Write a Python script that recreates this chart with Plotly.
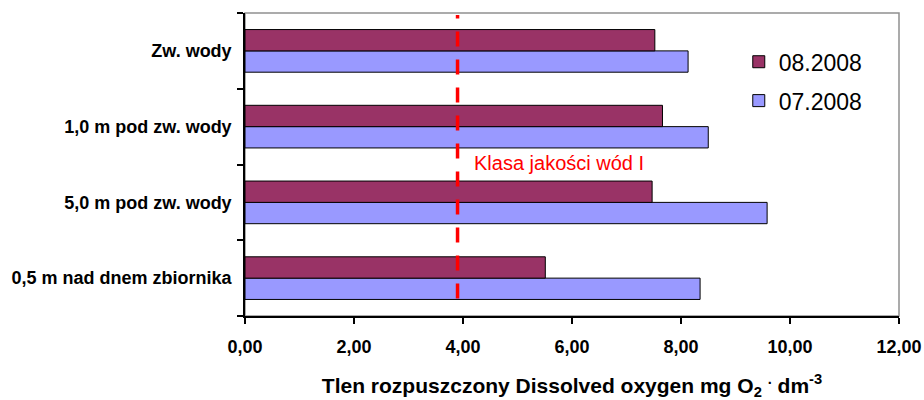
import plotly.graph_objects as go

# Sampling depths, bottom to top
depths = ["0,5 m nad dnem zbiornika", "5,0 m pod zw. wody", "1,0 m pod zw. wody", "Zw. wody"]
# Dissolved oxygen, mg O2/dm3
oxygen_07_2008 = [8.35, 9.58, 8.50, 8.13]
oxygen_08_2008 = [5.51, 7.47, 7.66, 7.52]
# Water quality class I threshold
class_limit = 3.9
x_ticks = [0, 2, 4, 6, 8, 10, 12]

FONT = "Arial, Liberation Sans, sans-serif"

fig = go.Figure()
fig.add_trace(go.Bar(
    y=depths, x=oxygen_07_2008, orientation="h", name="07.2008",
    marker=dict(color="#9999FF", line=dict(color="black", width=1)),
    legendgroup="b", legendrank=2,
))
fig.add_trace(go.Bar(
    y=depths, x=oxygen_08_2008, orientation="h", name="08.2008",
    marker=dict(color="#993366", line=dict(color="black", width=1)),
    legendgroup="a", legendrank=1,
))

# Threshold line and its label
fig.add_shape(type="line", xref="x", yref="y domain",
              x0=class_limit, x1=class_limit, y0=0.058, y1=0.993,
              line=dict(color="#FF0000", width=3.5, dash="15px,13px"))
fig.add_annotation(x=class_limit, xref="x", y=1.5, yref="y",
                   text="Klasa jakości wód I", showarrow=False,
                   xanchor="left", xshift=14, yshift=2,
                   font=dict(family=FONT, size=20, color="#FF0000"))

# Light frame on the top and right of the plot area
fig.add_shape(type="rect", xref="x domain", yref="y domain",
              x0=0, x1=1, y0=0, y1=1, layer="below",
              line=dict(color="#909090", width=1.5))

fig.update_layout(
    width=924, height=400,
    margin=dict(l=245, r=25, t=13, b=84),
    paper_bgcolor="white", plot_bgcolor="white",
    barmode="group", bargap=0.437, bargroupgap=0,
    separators=", ",
    showlegend=True,
    legend=dict(x=0.755, y=0.91, xanchor="left", yanchor="top",
                traceorder="grouped", tracegroupgap=6,
                font=dict(family=FONT, size=23, color="black"),
                bgcolor="rgba(0,0,0,0)"),
    font=dict(family=FONT, color="black"),
)

fig.update_xaxes(
    range=[0, 12], tickvals=x_ticks, tickformat=".2f",
    automargin=False,
    showgrid=False, zeroline=False,
    showline=True, linecolor="black", linewidth=1.5,
    ticks="outside", ticklen=6, tickcolor="black", tickwidth=1.5,
    ticklabelstandoff=8,
    tickfont=dict(family=FONT, size=18, color="black", weight="bold"),
    title=dict(text="Tlen rozpuszczony Dissolved oxygen mg O<sub>2</sub> <sup>.</sup> dm<sup>-3</sup>",
               font=dict(family=FONT, size=21, color="black", weight="bold"),
               standoff=34),
)
fig.update_yaxes(
    automargin=False,
    showgrid=False, zeroline=False,
    showline=True, linecolor="black", linewidth=1.5,
    ticks="outside", ticklen=6, tickcolor="black", tickwidth=1.5,
    tickson="boundaries", ticklabelstandoff=8,
    tickfont=dict(family=FONT, size=18, color="black", weight="bold"),
)

fig.write_html("out.html")
